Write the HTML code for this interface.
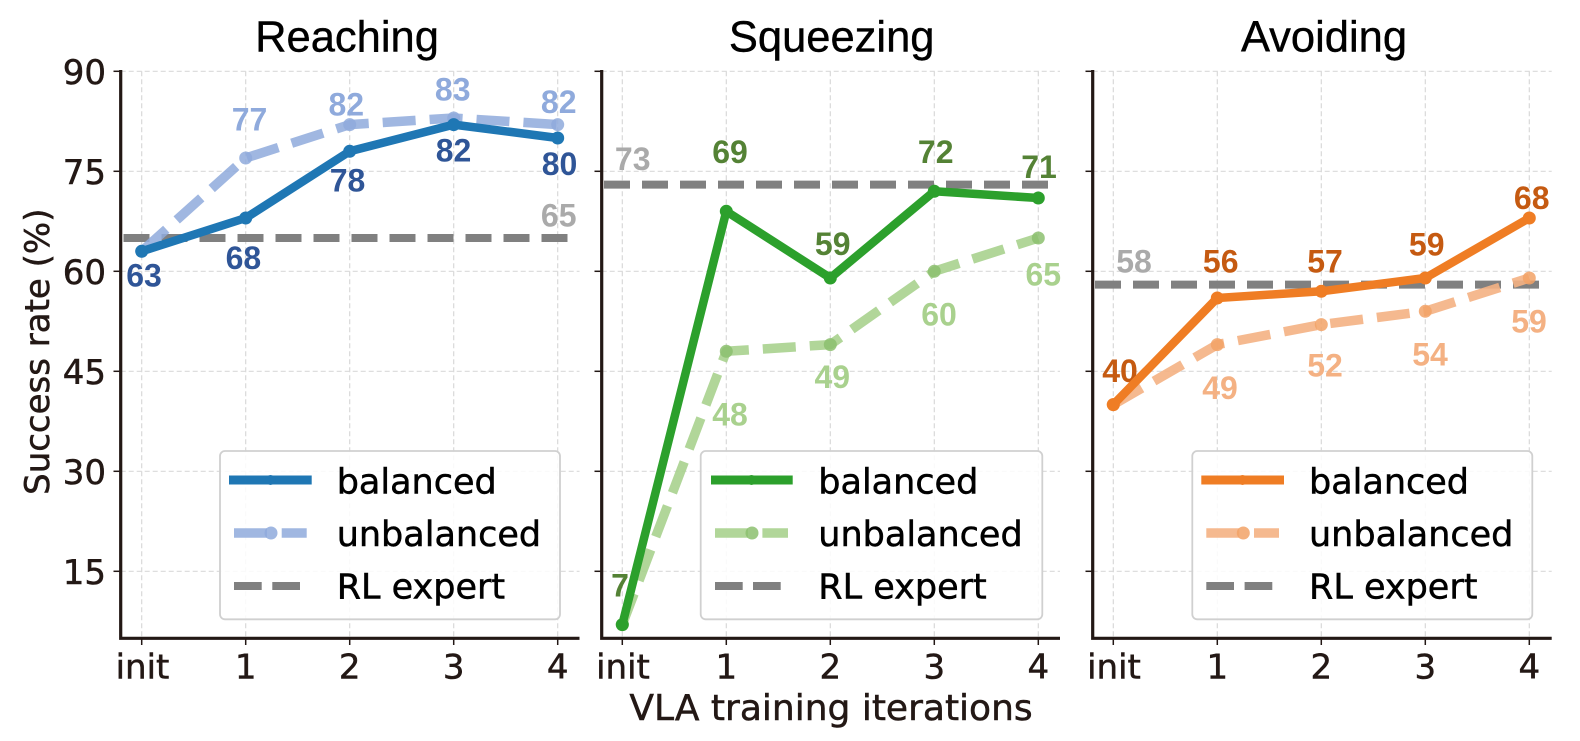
<!DOCTYPE html>
<html>
<head>
<meta charset="utf-8">
<style>
html,body{margin:0;padding:0;background:#fff;}
svg{display:block;}
.tk{font-family:"DejaVu Sans","Liberation Sans",sans-serif;font-size:34px;fill:#231815;stroke:#231815;stroke-width:0.5;}
.lg{font-family:"DejaVu Sans","Liberation Sans",sans-serif;font-size:35px;fill:#000;stroke:#000;stroke-width:0.5;}
.tt{font-family:"Liberation Sans",Arial,sans-serif;font-size:43.5px;fill:#000;text-anchor:middle;stroke:#000;stroke-width:0.4;}
.dl{font-family:"Liberation Sans",Arial,sans-serif;font-size:32px;font-weight:bold;text-anchor:middle;}
.grid{stroke:#d9d9d9;stroke-width:1.2;stroke-dasharray:5 3;fill:none;}
.spine{stroke:#231815;stroke-width:3.2;fill:none;}
.tick{stroke:#231815;stroke-width:1.5;}
</style>
</head>
<body>
<svg width="1580" height="741" viewBox="0 0 1580 741" xmlns="http://www.w3.org/2000/svg">
<rect width="1580" height="741" fill="#fff"/>

<g class="grid">
  <line x1="120.7" y1="71.3" x2="579.5" y2="71.3"/>
  <line x1="120.7" y1="171.3" x2="579.5" y2="171.3"/>
  <line x1="120.7" y1="271.3" x2="579.5" y2="271.3"/>
  <line x1="120.7" y1="371.3" x2="579.5" y2="371.3"/>
  <line x1="120.7" y1="471.3" x2="579.5" y2="471.3"/>
  <line x1="120.7" y1="571.3" x2="579.5" y2="571.3"/>
  <line x1="141.7" y1="71.3" x2="141.7" y2="638"/>
  <line x1="245.7" y1="71.3" x2="245.7" y2="638"/>
  <line x1="349.7" y1="71.3" x2="349.7" y2="638"/>
  <line x1="453.7" y1="71.3" x2="453.7" y2="638"/>
  <line x1="557.7" y1="71.3" x2="557.7" y2="638"/>
</g>
<g class="grid">
  <line x1="601.7" y1="71.3" x2="1060" y2="71.3"/>
  <line x1="601.7" y1="171.3" x2="1060" y2="171.3"/>
  <line x1="601.7" y1="271.3" x2="1060" y2="271.3"/>
  <line x1="601.7" y1="371.3" x2="1060" y2="371.3"/>
  <line x1="601.7" y1="471.3" x2="1060" y2="471.3"/>
  <line x1="601.7" y1="571.3" x2="1060" y2="571.3"/>
  <line x1="622.3" y1="71.3" x2="622.3" y2="638"/>
  <line x1="726.3" y1="71.3" x2="726.3" y2="638"/>
  <line x1="830.3" y1="71.3" x2="830.3" y2="638"/>
  <line x1="934.3" y1="71.3" x2="934.3" y2="638"/>
  <line x1="1038.3" y1="71.3" x2="1038.3" y2="638"/>
</g>
<g class="grid">
  <line x1="1092.7" y1="71.3" x2="1551.7" y2="71.3"/>
  <line x1="1092.7" y1="171.3" x2="1551.7" y2="171.3"/>
  <line x1="1092.7" y1="271.3" x2="1551.7" y2="271.3"/>
  <line x1="1092.7" y1="371.3" x2="1551.7" y2="371.3"/>
  <line x1="1092.7" y1="471.3" x2="1551.7" y2="471.3"/>
  <line x1="1092.7" y1="571.3" x2="1551.7" y2="571.3"/>
  <line x1="1113.3" y1="71.3" x2="1113.3" y2="638"/>
  <line x1="1217.3" y1="71.3" x2="1217.3" y2="638"/>
  <line x1="1321.3" y1="71.3" x2="1321.3" y2="638"/>
  <line x1="1425.3" y1="71.3" x2="1425.3" y2="638"/>
  <line x1="1529.3" y1="71.3" x2="1529.3" y2="638"/>
</g>

<g class="dl" fill="#2f5597">
  <text x="144" y="286.5">63</text>
  <text x="243.4" y="269">68</text>
  <text x="347.5" y="191.5">78</text>
  <text x="453.5" y="161.5">82</text>
  <text x="559.5" y="174.8">80</text>
</g>
<g class="dl" fill="#8faadc">
  <text x="249.5" y="130.7">77</text>
  <text x="346.3" y="115.7">82</text>
  <text x="452.7" y="100.3">83</text>
  <text x="558.7" y="113.2">82</text>
</g>
<text class="dl" fill="#aaaaaa" x="558.7" y="226.5">65</text>
<g class="dl" fill="#548235">
  <text x="620" y="596.5">7</text>
  <text x="730" y="163.2">69</text>
  <text x="832.7" y="254.8">59</text>
  <text x="935.7" y="163.2">72</text>
  <text x="1039" y="178.2">71</text>
</g>
<g class="dl" fill="#a9d18e">
  <text x="730" y="425.7">48</text>
  <text x="832.3" y="388">49</text>
  <text x="939" y="325.7">60</text>
  <text x="1043.3" y="285.7">65</text>
</g>
<text class="dl" fill="#aaaaaa" x="632.7" y="169.8">73</text>
<g class="dl" fill="#c55a11">
  <text x="1120" y="382">40</text>
  <text x="1220.7" y="272.3">56</text>
  <text x="1325" y="272.3">57</text>
  <text x="1426.7" y="255.7">59</text>
  <text x="1531.7" y="209">68</text>
</g>
<g class="dl" fill="#f4b183">
  <text x="1220" y="399">49</text>
  <text x="1325" y="376.5">52</text>
  <text x="1430" y="365.7">54</text>
  <text x="1529" y="332.3">59</text>
</g>
<text class="dl" fill="#aaaaaa" x="1134" y="272.3">58</text>

<g stroke="#808080" stroke-width="8" stroke-dasharray="26 12" fill="none">
  <line x1="123.5" y1="238" x2="569" y2="238"/>
  <line x1="604" y1="184.6" x2="1050" y2="184.6"/>
  <line x1="1095" y1="284.6" x2="1540.7" y2="284.6"/>
</g>

<g fill="none" stroke-width="9.5" stroke-dasharray="33 14" stroke-linejoin="round">
  <polyline stroke="#8faadc" stroke-opacity="0.85" points="141.7,251.3 245.7,158 349.7,124.6 453.7,118 557.7,124.6"/>
  <polyline stroke="#a9d18e" stroke-opacity="0.9" points="622.3,624.6 726.3,351.3 830.3,344.6 934.3,271.3 1038.3,238"/>
  <polyline stroke="#f4b183" stroke-opacity="0.9" points="1113.3,404.6 1217.3,344.6 1321.3,324.6 1425.3,311.3 1529.3,278"/>
</g>
<g fill="#8faadc" fill-opacity="0.85">
  <circle cx="141.7" cy="251.3" r="6.5"/><circle cx="245.7" cy="158" r="6.5"/><circle cx="349.7" cy="124.6" r="6.5"/><circle cx="453.7" cy="118" r="6.5"/><circle cx="557.7" cy="124.6" r="6.5"/>
</g>
<g fill="#8cbf6e" fill-opacity="0.85">
  <circle cx="622.3" cy="624.6" r="6.5"/><circle cx="726.3" cy="351.3" r="6.5"/><circle cx="830.3" cy="344.6" r="6.5"/><circle cx="934.3" cy="271.3" r="6.5"/><circle cx="1038.3" cy="238" r="6.5"/>
</g>
<g fill="#f2a266" fill-opacity="0.85">
  <circle cx="1113.3" cy="404.6" r="6.5"/><circle cx="1217.3" cy="344.6" r="6.5"/><circle cx="1321.3" cy="324.6" r="6.5"/><circle cx="1425.3" cy="311.3" r="6.5"/><circle cx="1529.3" cy="278" r="6.5"/>
</g>

<g fill="none" stroke-width="8.5" stroke-linejoin="round" stroke-linecap="round">
  <polyline stroke="#1f77b4" points="141.7,251.3 245.7,218 349.7,151.3 453.7,124.6 557.7,138"/>
  <polyline stroke="#2ca02c" points="622.3,624.6 726.3,211.3 830.3,278 934.3,191.3 1038.3,198"/>
  <polyline stroke="#ef7d24" points="1113.3,404.6 1217.3,298 1321.3,291.3 1425.3,278 1529.3,218"/>
</g>
<g fill="#1f77b4">
  <circle cx="141.7" cy="251.3" r="6.5"/><circle cx="245.7" cy="218" r="6.5"/><circle cx="349.7" cy="151.3" r="6.5"/><circle cx="453.7" cy="124.6" r="6.5"/><circle cx="557.7" cy="138" r="6.5"/>
</g>
<g fill="#2ca02c">
  <circle cx="622.3" cy="624.6" r="6.5"/><circle cx="726.3" cy="211.3" r="6.5"/><circle cx="830.3" cy="278" r="6.5"/><circle cx="934.3" cy="191.3" r="6.5"/><circle cx="1038.3" cy="198" r="6.5"/>
</g>
<g fill="#ef7d24">
  <circle cx="1113.3" cy="404.6" r="6.5"/><circle cx="1217.3" cy="298" r="6.5"/><circle cx="1321.3" cy="291.3" r="6.5"/><circle cx="1425.3" cy="278" r="6.5"/><circle cx="1529.3" cy="218" r="6.5"/>
</g>

<rect x="220" y="451" width="340" height="168.3" rx="5" fill="#fff" fill-opacity="0.85" stroke="#d0d0d0" stroke-width="1.8"/>
<line x1="229" y1="480" x2="311.7" y2="480" stroke="#1f77b4" stroke-width="9"/>
<circle cx="270.5" cy="480" r="5" fill="#1f77b4"/>
<line x1="234" y1="533" x2="267" y2="533" stroke="#8faadc" stroke-opacity="0.85" stroke-width="9.5"/>
<line x1="281.7" y1="533" x2="306.7" y2="533" stroke="#8faadc" stroke-opacity="0.85" stroke-width="9.5"/>
<circle cx="271" cy="533" r="6.5" fill="#8faadc" fill-opacity="0.85"/>
<line x1="234" y1="586" x2="261.7" y2="586" stroke="#808080" stroke-width="8"/>
<line x1="272.3" y1="586" x2="300" y2="586" stroke="#808080" stroke-width="8"/>
<text class="lg" x="336.7" y="493.3">balanced</text>
<text class="lg" x="336.7" y="546">unbalanced</text>
<text class="lg" x="336.7" y="598.3">RL expert</text>

<rect x="700.7" y="451" width="341.6" height="168.3" rx="5" fill="#fff" fill-opacity="0.85" stroke="#d0d0d0" stroke-width="1.8"/>
<line x1="711" y1="480" x2="792.7" y2="480" stroke="#2ca02c" stroke-width="9"/>
<circle cx="751.5" cy="480" r="5" fill="#2ca02c"/>
<line x1="715" y1="533" x2="748" y2="533" stroke="#a9d18e" stroke-opacity="0.9" stroke-width="9.5"/>
<line x1="762.4" y1="533" x2="788" y2="533" stroke="#a9d18e" stroke-opacity="0.9" stroke-width="9.5"/>
<circle cx="752" cy="533" r="6.5" fill="#8cbf6e" fill-opacity="0.85"/>
<line x1="715" y1="586" x2="742.7" y2="586" stroke="#808080" stroke-width="8"/>
<line x1="753" y1="586" x2="780.7" y2="586" stroke="#808080" stroke-width="8"/>
<text class="lg" x="818.3" y="493.3">balanced</text>
<text class="lg" x="818.3" y="546">unbalanced</text>
<text class="lg" x="818.3" y="598.3">RL expert</text>

<rect x="1192.3" y="451" width="340" height="168.3" rx="5" fill="#fff" fill-opacity="0.85" stroke="#d0d0d0" stroke-width="1.8"/>
<line x1="1201.3" y1="480" x2="1284" y2="480" stroke="#ef7d24" stroke-width="9"/>
<circle cx="1242.5" cy="480" r="5" fill="#ef7d24"/>
<line x1="1206.3" y1="533" x2="1239.3" y2="533" stroke="#f4b183" stroke-opacity="0.9" stroke-width="9.5"/>
<line x1="1254" y1="533" x2="1279" y2="533" stroke="#f4b183" stroke-opacity="0.9" stroke-width="9.5"/>
<circle cx="1243.3" cy="533" r="6.5" fill="#f2a266" fill-opacity="0.85"/>
<line x1="1206.3" y1="586" x2="1234" y2="586" stroke="#808080" stroke-width="8"/>
<line x1="1244.6" y1="586" x2="1272.3" y2="586" stroke="#808080" stroke-width="8"/>
<text class="lg" x="1309" y="493.3">balanced</text>
<text class="lg" x="1309" y="546">unbalanced</text>
<text class="lg" x="1309" y="598.3">RL expert</text>

<g class="spine">
  <polyline points="120.7,70 120.7,638.3 579.5,638.3"/>
  <polyline points="601.7,70 601.7,638.3 1060,638.3"/>
  <polyline points="1092.7,70 1092.7,638.3 1551.7,638.3"/>
</g>
<g class="tick">
  <line x1="113.5" y1="71.3" x2="120.7" y2="71.3"/><line x1="113.5" y1="171.3" x2="120.7" y2="171.3"/><line x1="113.5" y1="271.3" x2="120.7" y2="271.3"/><line x1="113.5" y1="371.3" x2="120.7" y2="371.3"/><line x1="113.5" y1="471.3" x2="120.7" y2="471.3"/><line x1="113.5" y1="571.3" x2="120.7" y2="571.3"/>
  <line x1="594.5" y1="71.3" x2="601.7" y2="71.3"/><line x1="594.5" y1="171.3" x2="601.7" y2="171.3"/><line x1="594.5" y1="271.3" x2="601.7" y2="271.3"/><line x1="594.5" y1="371.3" x2="601.7" y2="371.3"/><line x1="594.5" y1="471.3" x2="601.7" y2="471.3"/><line x1="594.5" y1="571.3" x2="601.7" y2="571.3"/>
  <line x1="1085.5" y1="71.3" x2="1092.7" y2="71.3"/><line x1="1085.5" y1="171.3" x2="1092.7" y2="171.3"/><line x1="1085.5" y1="271.3" x2="1092.7" y2="271.3"/><line x1="1085.5" y1="371.3" x2="1092.7" y2="371.3"/><line x1="1085.5" y1="471.3" x2="1092.7" y2="471.3"/><line x1="1085.5" y1="571.3" x2="1092.7" y2="571.3"/>
  <line x1="141.7" y1="638.3" x2="141.7" y2="645"/><line x1="245.7" y1="638.3" x2="245.7" y2="645"/><line x1="349.7" y1="638.3" x2="349.7" y2="645"/><line x1="453.7" y1="638.3" x2="453.7" y2="645"/><line x1="557.7" y1="638.3" x2="557.7" y2="645"/>
  <line x1="622.3" y1="638.3" x2="622.3" y2="645"/><line x1="726.3" y1="638.3" x2="726.3" y2="645"/><line x1="830.3" y1="638.3" x2="830.3" y2="645"/><line x1="934.3" y1="638.3" x2="934.3" y2="645"/><line x1="1038.3" y1="638.3" x2="1038.3" y2="645"/>
  <line x1="1113.3" y1="638.3" x2="1113.3" y2="645"/><line x1="1217.3" y1="638.3" x2="1217.3" y2="645"/><line x1="1321.3" y1="638.3" x2="1321.3" y2="645"/><line x1="1425.3" y1="638.3" x2="1425.3" y2="645"/><line x1="1529.3" y1="638.3" x2="1529.3" y2="645"/>
</g>

<g class="tk" text-anchor="end">
  <text x="106" y="83.8">90</text>
  <text x="106" y="183.8">75</text>
  <text x="106" y="283.8">60</text>
  <text x="106" y="383.8">45</text>
  <text x="106" y="483.8">30</text>
  <text x="106" y="583.8">15</text>
</g>
<g class="tk" text-anchor="middle">
  <text x="142.5" y="678.3">init</text><text x="245.7" y="678.3">1</text><text x="349.7" y="678.3">2</text><text x="453.7" y="678.3">3</text><text x="557.7" y="678.3">4</text>
  <text x="623" y="678.3">init</text><text x="726.3" y="678.3">1</text><text x="830.3" y="678.3">2</text><text x="934.3" y="678.3">3</text><text x="1038.3" y="678.3">4</text>
  <text x="1114" y="678.3">init</text><text x="1217.3" y="678.3">1</text><text x="1321.3" y="678.3">2</text><text x="1425.3" y="678.3">3</text><text x="1529.3" y="678.3">4</text>
</g>

<text class="tt" x="347" y="51.7">Reaching</text>
<text class="tt" x="831.7" y="51.7">Squeezing</text>
<text class="tt" x="1324" y="51.7">Avoiding</text>

<text font-family="DejaVu Sans, Liberation Sans, sans-serif" font-size="36" fill="#231815" stroke="#231815" stroke-width="0.5" text-anchor="middle" x="831" y="720">VLA training iterations</text>
<text font-family="DejaVu Sans, Liberation Sans, sans-serif" font-size="34" fill="#231815" stroke="#231815" stroke-width="0.5" text-anchor="middle" transform="translate(49,351.7) rotate(-90)">Success rate (%)</text>
</svg>
</body>
</html>
